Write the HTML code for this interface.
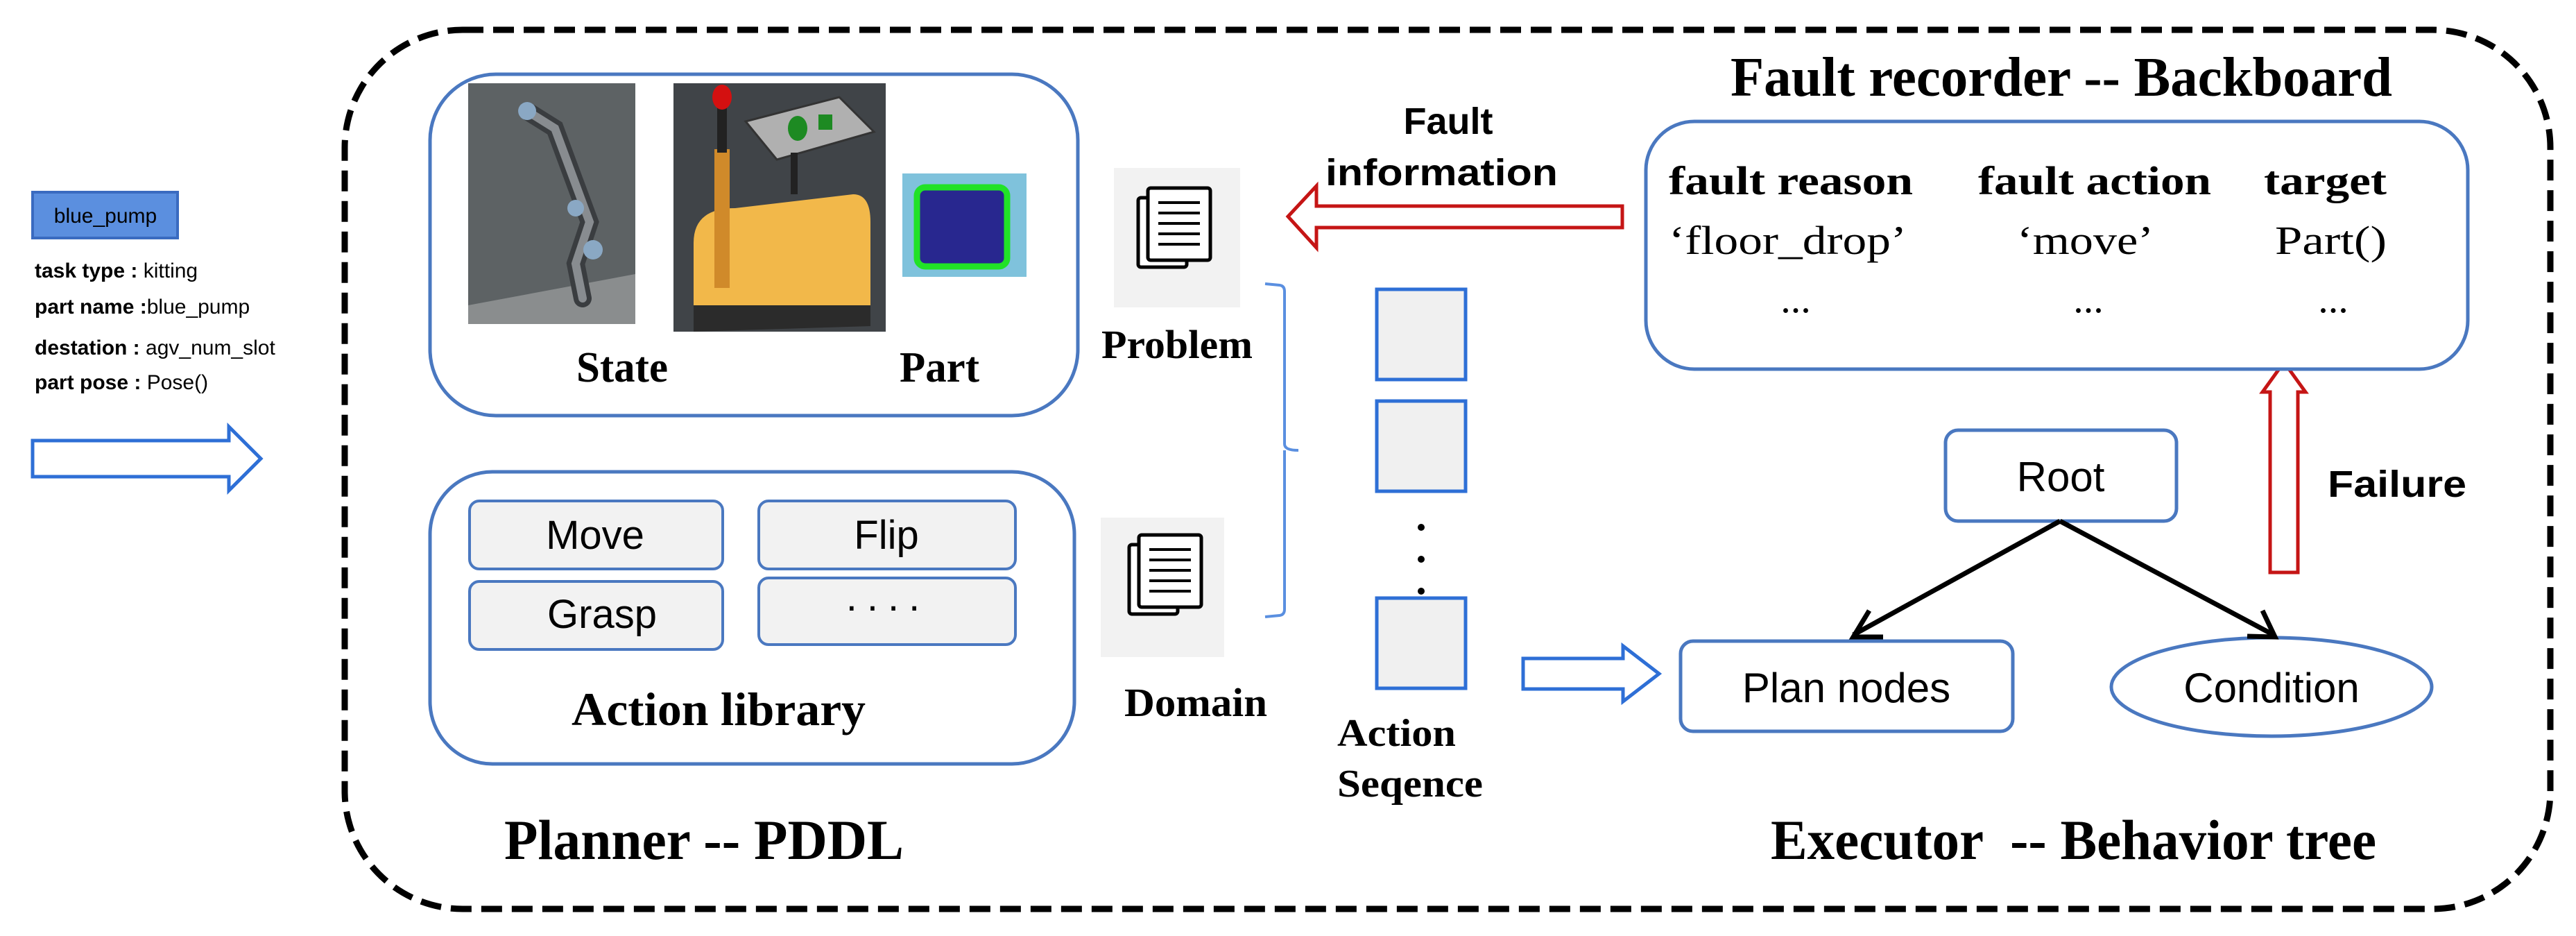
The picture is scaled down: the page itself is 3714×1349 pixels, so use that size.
<!DOCTYPE html>
<html><head><meta charset="utf-8"><style>
html,body{margin:0;padding:0;background:#fff;}
svg{display:block;}
.ser{font-family:"Liberation Serif",serif;font-weight:bold;}
.san{font-family:"Liberation Sans",sans-serif;}
</style></head><body>
<svg width="3714" height="1349" viewBox="0 0 3714 1349" xmlns="http://www.w3.org/2000/svg">
<rect x="497" y="43" width="3180" height="1267" rx="170" fill="none" stroke="#000" stroke-width="9" stroke-dasharray="30,14"/>

<rect x="47" y="277" width="209" height="66" fill="#5b8fdf" stroke="#3a6bc0" stroke-width="4"/>
<text x="152" y="321" class="san" font-size="30" text-anchor="middle" fill="#000">blue_pump</text>
<g class="san" font-size="30" fill="#000">
<text x="50" y="400"><tspan font-weight="bold">task type : </tspan>kitting</text>
<text x="50" y="452"><tspan font-weight="bold">part name :</tspan>blue_pump</text>
<text x="50" y="511"><tspan font-weight="bold">destation : </tspan>agv_num_slot</text>
<text x="50" y="561"><tspan font-weight="bold">part pose : </tspan>Pose()</text>
</g>
<polygon points="47,635 330,635 330,615 376,661 330,707 330,687 47,687" fill="#fff" stroke="#2e6fd6" stroke-width="5"/>

<rect x="620" y="107" width="934" height="492" rx="95" fill="#fff" stroke="#4a78c0" stroke-width="5"/>
<rect x="675" y="120" width="241" height="347" fill="#5d6264"/>
<polygon points="675,467 675,440 916,395 916,467" fill="#8a8d8e"/>
<path d="M760,160 L800,185 L850,320 L830,380 L840,430" fill="none" stroke="#3a3d40" stroke-width="26" stroke-linecap="round"/>
<path d="M760,160 L800,185 L850,320 L830,380 L840,430" fill="none" stroke="#888c90" stroke-width="12" stroke-linecap="round"/>
<circle cx="760" cy="160" r="13" fill="#8aa8c4"/><circle cx="830" cy="300" r="12" fill="#8aa8c4"/><circle cx="855" cy="360" r="14" fill="#8aa8c4"/>
<rect x="971" y="120" width="306" height="358" fill="#404448"/>
<path d="M1000,350 Q1000,300 1060,300 L1230,280 Q1255,280 1255,320 L1255,440 L1000,470 Z" fill="#f2b84a"/>
<path d="M1000,440 L1255,440 L1255,470 L1000,478 Z" fill="#2b2b2b"/>
<rect x="1030" y="215" width="22" height="200" fill="#d08a2a"/>
<rect x="1034" y="140" width="14" height="80" fill="#222"/>
<ellipse cx="1041" cy="140" rx="14" ry="18" fill="#d41010"/>
<polygon points="1075,175 1210,140 1260,190 1120,230" fill="#b0b0b0" stroke="#333" stroke-width="3"/>
<ellipse cx="1150" cy="185" rx="14" ry="18" fill="#1d8a22"/><rect x="1180" y="165" width="20" height="22" fill="#1d8a22"/>
<rect x="1140" y="220" width="10" height="60" fill="#222"/>
<rect x="1301" y="250" width="179" height="149" fill="#7fc2dc"/>
<rect x="1322" y="270" width="130" height="114" rx="12" fill="#28278f" stroke="#21e227" stroke-width="9"/>
<text x="831" y="550" class="ser" font-size="62" textLength="132" lengthAdjust="spacingAndGlyphs">State</text>
<text x="1297" y="550" class="ser" font-size="62" textLength="115" lengthAdjust="spacingAndGlyphs">Part</text>

<rect x="620" y="680" width="929" height="421" rx="90" fill="#fff" stroke="#4a78c0" stroke-width="5"/>
<g fill="#f2f2f2" stroke="#4a78c0" stroke-width="4">
<rect x="677" y="722" width="365" height="98" rx="14"/>
<rect x="1094" y="722" width="370" height="98" rx="14"/>
<rect x="677" y="838" width="365" height="98" rx="14"/>
<rect x="1094" y="833" width="370" height="96" rx="14"/>
</g>
<g class="san" font-size="58" text-anchor="middle" fill="#000">
<text x="858" y="791">Move</text>
<text x="1278" y="791">Flip</text>
<text x="868" y="905">Grasp</text>
<text x="1280" y="880" letter-spacing="14">....</text>
</g>
<text x="824" y="1045" class="ser" font-size="68" textLength="424" lengthAdjust="spacingAndGlyphs">Action library</text>

<g>
<rect x="1606" y="242" width="182" height="201" fill="#f2f2f2"/>
<rect x="1641" y="285" width="70" height="100" fill="#fff" stroke="#000" stroke-width="5" rx="4"/>
<rect x="1655" y="271" width="90" height="104" fill="#fff" stroke="#000" stroke-width="5" rx="4"/>
<g stroke="#000" stroke-width="4"><line x1="1670" y1="292" x2="1730" y2="292"/><line x1="1670" y1="307" x2="1730" y2="307"/><line x1="1670" y1="322" x2="1730" y2="322"/><line x1="1670" y1="337" x2="1730" y2="337"/><line x1="1670" y1="352" x2="1730" y2="352"/></g>
</g>
<g>
<rect x="1587" y="746" width="178" height="201" fill="#f2f2f2"/>
<rect x="1628" y="785" width="70" height="100" fill="#fff" stroke="#000" stroke-width="5" rx="4"/>
<rect x="1642" y="771" width="90" height="104" fill="#fff" stroke="#000" stroke-width="5" rx="4"/>
<g stroke="#000" stroke-width="4"><line x1="1657" y1="792" x2="1717" y2="792"/><line x1="1657" y1="807" x2="1717" y2="807"/><line x1="1657" y1="822" x2="1717" y2="822"/><line x1="1657" y1="837" x2="1717" y2="837"/><line x1="1657" y1="852" x2="1717" y2="852"/></g>
</g>
<text x="1588" y="516" class="ser" font-size="58" textLength="218" lengthAdjust="spacingAndGlyphs">Problem</text>
<text x="1621" y="1032" class="ser" font-size="58" textLength="206" lengthAdjust="spacingAndGlyphs">Domain</text>

<path d="M1824,409 L1845,411 Q1852,412 1852,420 L1852,640 Q1852,649 1872,649 M1852,649 L1852,878 Q1852,886 1845,887 L1824,889" fill="none" stroke="#5a8fe0" stroke-width="4"/>

<g fill="#f0f0f0" stroke="#2e6fd6" stroke-width="5">
<rect x="1985" y="417" width="128" height="130"/>
<rect x="1985" y="578" width="128" height="130"/>
<rect x="1985" y="862" width="128" height="130"/>
</g>
<g fill="#000"><circle cx="2049" cy="760" r="5"/><circle cx="2049" cy="806" r="5"/><circle cx="2049" cy="852" r="5"/></g>
<text x="1928" y="1075" class="ser" font-size="56" textLength="171" lengthAdjust="spacingAndGlyphs">Action</text>
<text x="1928" y="1148" class="ser" font-size="56" textLength="210" lengthAdjust="spacingAndGlyphs">Seqence</text>
<polygon points="2196,949 2340,949 2340,931 2392,971 2340,1011 2340,993 2196,993" fill="#fff" stroke="#2e6fd6" stroke-width="5"/>

<rect x="2423" y="924" width="479" height="130" rx="18" fill="#fff" stroke="#4a78c0" stroke-width="5"/>
<text x="2662" y="1012" class="san" font-size="60" text-anchor="middle">Plan nodes</text>
<ellipse cx="3275" cy="990" rx="231" ry="71" fill="#fff" stroke="#4a78c0" stroke-width="5"/>
<text x="3275" y="1012" class="san" font-size="60" text-anchor="middle">Condition</text>
<rect x="2805" y="620" width="333" height="131" rx="18" fill="#fff" stroke="#4a78c0" stroke-width="5"/>
<text x="2971" y="708" class="san" font-size="60" text-anchor="middle">Root</text>
<g stroke="#000" stroke-width="7" fill="none">
<line x1="2970" y1="751" x2="2672" y2="915"/>
<line x1="2970" y1="751" x2="3278" y2="915"/>
<polyline points="2695,880 2672,918 2715,918"/>
<polyline points="3240,917 3280,918 3262,880"/>
</g>
<polygon points="3273,825 3273,565 3262,565 3293,522 3324,565 3313,565 3313,825" fill="#fff" stroke="#c51515" stroke-width="5"/>
<text x="3356" y="716" class="san" font-size="54" font-weight="bold" textLength="200" lengthAdjust="spacingAndGlyphs">Failure</text>

<text x="2495" y="138" class="ser" font-size="80" textLength="954" lengthAdjust="spacingAndGlyphs">Fault recorder -- Backboard</text>
<rect x="2373" y="175" width="1185" height="357" rx="70" fill="#fff" stroke="#4a78c0" stroke-width="5"/>
<g class="ser" font-size="58">
<text x="2406" y="280" textLength="352" lengthAdjust="spacingAndGlyphs">fault reason</text>
<text x="2852" y="280" textLength="336" lengthAdjust="spacingAndGlyphs">fault action</text>
<text x="3264" y="280" textLength="177" lengthAdjust="spacingAndGlyphs">target</text>
</g>
<g font-family="'Liberation Serif',serif" font-size="58" fill="#000">
<text x="2406" y="366" textLength="343" lengthAdjust="spacingAndGlyphs">‘floor_drop’</text>
<text x="2908" y="366" textLength="197" lengthAdjust="spacingAndGlyphs">‘move’</text>
<text x="3280" y="366" textLength="161" lengthAdjust="spacingAndGlyphs">Part()</text>
<text x="2589" y="450" text-anchor="middle">...</text>
<text x="3011" y="450" text-anchor="middle">...</text>
<text x="3364" y="450" text-anchor="middle">...</text>
</g>
<polygon points="2339,297 1898,297 1898,268 1857,312 1898,357 1898,328 2339,328" fill="#fff" stroke="#c51515" stroke-width="5"/>
<text x="2088" y="193" class="san" font-size="54" font-weight="bold" text-anchor="middle">Fault</text>
<text x="1911" y="267" class="san" font-size="54" font-weight="bold" textLength="335" lengthAdjust="spacingAndGlyphs">information</text>

<text x="727" y="1238" class="ser" font-size="82" textLength="576" lengthAdjust="spacingAndGlyphs">Planner -- PDDL</text>
<text x="2553" y="1238" class="ser" font-size="82" textLength="873" lengthAdjust="spacingAndGlyphs" xml:space="preserve">Executor  -- Behavior tree</text>
</svg>
</body></html>
